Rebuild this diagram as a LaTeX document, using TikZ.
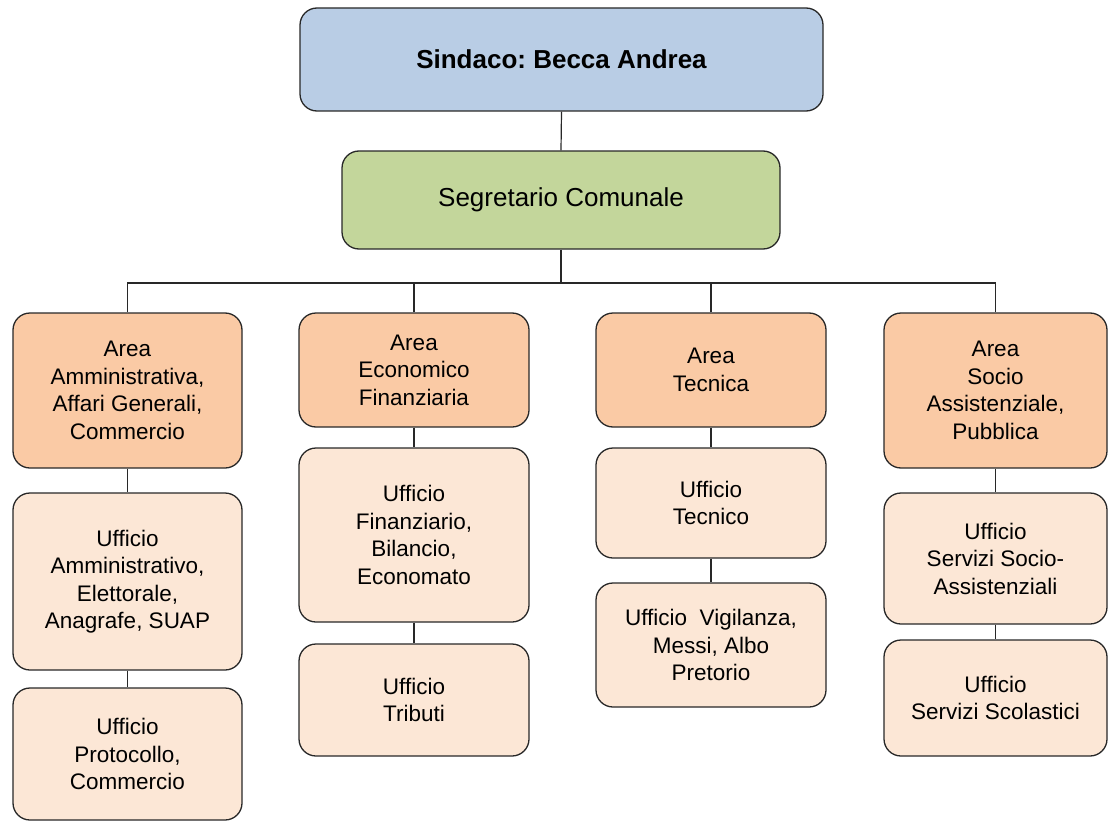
\documentclass[tikz,border=0pt]{standalone}
\usepackage{fontspec}
\setmainfont{Liberation Sans}
\frenchspacing
\definecolor{sindacoblue}{RGB}{185,205,229}
\definecolor{segrgreen}{RGB}{195,214,155}
\definecolor{areaorange}{RGB}{250,202,165}
\definecolor{uffpeach}{RGB}{252,231,214}
\definecolor{bordo}{RGB}{40,40,40}

\begin{document}
\begin{tikzpicture}[x=1pt,y=-1pt,
  box/.style={draw=bordo,line width=1.3pt,rounded corners=17pt,align=center,inner sep=0pt,font=\fontsize{22.5}{27.5}\selectfont},
  area/.style={box,fill=areaorange},
  ufficio/.style={box,fill=uffpeach},
  link/.style={draw=bordo,line width=1.2pt}]

\useasboundingbox (0,0) rectangle (1108,824);

\node[box,fill=sindacoblue,minimum width=523pt,minimum height=103pt,font=\fontsize{26}{30}\selectfont\bfseries] (sindaco) at (561.5,59.5) {Sindaco: Becca Andrea};
\node[box,fill=segrgreen,minimum width=438pt,minimum height=98pt,font=\fontsize{26}{30}\selectfont] (segretario) at (561,200) {Segretario Comunale};

\node[area,minimum width=229pt,minimum height=155pt] (area1) at (127.5,390.5) {Area\\Amministrativa,\\Affari Generali,\\Commercio};
\node[ufficio,minimum width=229pt,minimum height=177pt] (uff11) at (127.5,581.5) {Ufficio\\Amministrativo,\\Elettorale,\\Anagrafe, SUAP};
\node[ufficio,minimum width=229pt,minimum height=132pt] (uff12) at (127.5,754) {Ufficio\\Protocollo,\\Commercio};

\node[area,minimum width=230pt,minimum height=114pt] (area2) at (414,370) {Area\\Economico\\Finanziaria};
\node[ufficio,minimum width=230pt,minimum height=174pt] (uff21) at (414,535) {Ufficio\\Finanziario,\\Bilancio,\\Economato};
\node[ufficio,minimum width=230pt,minimum height=112pt] (uff22) at (414,700) {Ufficio\\Tributi};

\node[area,minimum width=230pt,minimum height=114pt] (area3) at (711,370) {Area\\Tecnica};
\node[ufficio,minimum width=230pt,minimum height=110pt] (uff31) at (711,503) {Ufficio\\Tecnico};
\node[ufficio,minimum width=230pt,minimum height=124pt] (uff32) at (711,645) {Ufficio\ \ Vigilanza,\\Messi, Albo\\Pretorio};

\node[area,minimum width=223pt,minimum height=155pt] (area4) at (995.5,390.5) {Area\\Socio\\Assistenziale,\\Pubblica};
\node[ufficio,minimum width=223pt,minimum height=131pt] (uff41) at (995.5,558.5) {Ufficio\\Servizi Socio-\\Assistenziali};
\node[ufficio,minimum width=223pt,minimum height=116pt] (uff42) at (995.5,698) {Ufficio\\Servizi Scolastici};

\coordinate (bus) at (561,283);

\draw[link] (sindaco.south) -- (segretario.north);
\draw[link] (segretario.south) -- (bus);
\foreach \a in {area1,area2,area3,area4}
  \draw[link] (\a.north) |- (bus);

\draw[link] (area1) -- (uff11);
\draw[link] (uff11) -- (uff12);
\draw[link] (area2) -- (uff21);
\draw[link] (uff21) -- (uff22);
\draw[link] (area3) -- (uff31);
\draw[link] (uff31) -- (uff32);
\draw[link] (area4) -- (uff41);
\draw[link] (uff41) -- (uff42);

\end{tikzpicture}
\end{document}
